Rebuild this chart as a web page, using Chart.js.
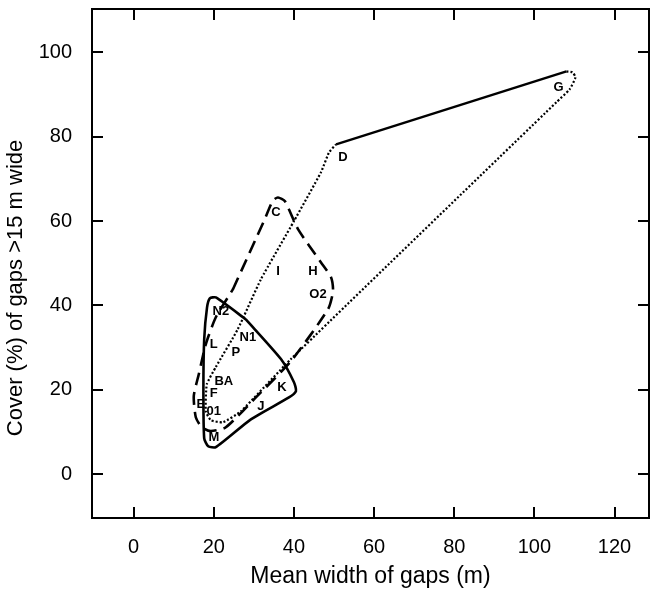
<!DOCTYPE html>
<html>
<head>
<meta charset="utf-8">
<script src="https://cdn.jsdelivr.net/npm/chart.js@4/dist/chart.umd.min.js"></script>
<style>
  html, body { margin: 0; padding: 0; background: #fff; }
  #wrap { width: 650px; height: 591px; }
</style>
</head>
<body>
<div id="wrap"><canvas id="gaps" width="650" height="591"></canvas></div>
<script>
// site labels and where they sit (mean gap width, cover of wide gaps)
const siteNames = ["G", "D", "C", "I", "H", "O2", "N2", "L", "N1", "P", "BA", "F", "E", "01", "J", "K", "M"];
const siteX = [106, 52.25, 35.5, 36, 44.75, 46, 21.75, 20, 28.5, 25.5, 22.5, 20, 16.75, 20, 31.75, 37, 20];
const siteY = [91.7, 75.1, 62.1, 48.1, 48.1, 42.7, 38.6, 30.8, 32.5, 28.9, 22, 19.2, 16.6, 14.9, 16.1, 20.6, 8.8];

// solid outline (N2 / K / M group)
const solidX = [28, 36.75, 40, 40.5, 38.75, 29.25, 20.5, 18.6, 17.6, 17.4, 17.6, 18.3, 19, 20.5, 28];
const solidY = [36.7, 27.3, 21.8, 19.7, 18.2, 13.0, 6.4, 6.6, 8.5, 20, 32, 39.5, 41.7, 41.9, 36.7];

// dashed outline (C group)
const dashedX = [24.75, 32.5, 34.75, 36, 37.75, 41, 46.75, 49.25, 49.75, 48.5, 39.25, 30.5, 23, 19.25, 17, 15.5, 15, 16.25, 18, 20.5, 24.75];
const dashedY = [43.8, 60, 64.9, 65.6, 64.7, 58.1, 50.2, 46.7, 43.4, 39.1, 26.8, 18.2, 11.1, 10.2, 11.1, 13.5, 18.5, 23.7, 30.8, 37.2, 43.8];

// dotted outline (D / G group), its top edge D-G is drawn solid
const dottedX = [108, 109.5, 110.25, 108.75, 105.5, 39.25, 26.75, 22.25, 19.25, 18, 18.25, 20.5, 26, 31.75, 40, 46.75, 48.75, 50.5];
const dottedY = [95.5, 95.3, 94.1, 91.2, 88.2, 27.3, 14.9, 12.3, 12.8, 14.9, 21.3, 25.4, 34.4, 46.2, 60, 71.6, 76.3, 78.2];
const topEdgeX = [50.5, 108];
const topEdgeY = [78.2, 95.5];

const xTicks = [0, 20, 40, 60, 80, 100, 120];
const yTicks = [0, 20, 40, 60, 80, 100];

const FONT = "'Liberation Sans', Arial, sans-serif";
// trailing no-break spaces nudge the y title down a little, like the original
const yTitle = "Cover (%) of gaps >15 m wide" + "\u00A0".repeat(8);

function pts(xs, ys) {
    let out = [];
    for (let i = 0; i < xs.length; i++) out.push({x: xs[i], y: ys[i]});
    return out;
}

// frame, inward ticks and the site letters
const framePlugin = {
    id: "frame",
    afterDatasetsDraw(chart) {
        const ctx = chart.ctx;
        const a = chart.chartArea;
        const sx = chart.scales.x, sy = chart.scales.y;
        ctx.save();
        ctx.strokeStyle = "#000";
        ctx.lineWidth = 2;
        ctx.strokeRect(a.left, a.top, a.right - a.left, a.bottom - a.top);
        ctx.beginPath();
        for (const v of xTicks) {
            const px = Math.round(sx.getPixelForValue(v));
            ctx.moveTo(px, a.bottom); ctx.lineTo(px, a.bottom - 11);
            ctx.moveTo(px, a.top); ctx.lineTo(px, a.top + 11);
        }
        for (const v of yTicks) {
            const py = Math.round(sy.getPixelForValue(v));
            ctx.moveTo(a.left, py); ctx.lineTo(a.left + 11, py);
            ctx.moveTo(a.right, py); ctx.lineTo(a.right - 11, py);
        }
        ctx.stroke();

        const meta = chart.getDatasetMeta(0);
        ctx.fillStyle = "#000";
        ctx.font = "bold 13px " + FONT;
        ctx.textAlign = "center";
        ctx.textBaseline = "middle";
        meta.data.forEach((el, i) => {
            ctx.fillText(siteNames[i], el.x, el.y);
        });
        ctx.restore();
    }
};

new Chart(document.getElementById("gaps").getContext("2d"), {
    type: "scatter",
    data: {
        datasets: [
            {label: "sites", data: pts(siteX, siteY), pointRadius: 0, showLine: false},
            {label: "solid", data: pts(solidX, solidY), showLine: true, pointRadius: 0,
             borderColor: "#000", borderWidth: 2.6, tension: 0.2, fill: false},
            {label: "dashed", data: pts(dashedX, dashedY), showLine: true, pointRadius: 0,
             borderColor: "#000", borderWidth: 2.6, borderDash: [13, 7], tension: 0.2, fill: false},
            {label: "dotted", data: pts(dottedX, dottedY), showLine: true, pointRadius: 0,
             borderColor: "#000", borderWidth: 2.2, borderDash: [2, 2], tension: 0.15, fill: false},
            {label: "topEdge", data: pts(topEdgeX, topEdgeY), showLine: true, pointRadius: 0,
             borderColor: "#000", borderWidth: 2.4, tension: 0, fill: false}
        ]
    },
    options: {
        responsive: false,
        animation: false,
        layout: {padding: {top: 9, right: 1, bottom: 0, left: 0}},
        plugins: {legend: {display: false}, tooltip: {enabled: false}},
        scales: {
            x: {
                type: "linear",
                min: -10.4,
                max: 128.6,
                afterBuildTicks: (s) => { s.ticks = xTicks.map(v => ({value: v})); },
                afterFit: (s) => { s.height = 73; s.paddingLeft = 0; s.paddingRight = 0; },
                grid: {display: false, drawTicks: false},
                border: {display: false},
                ticks: {color: "#000", padding: 17, font: {family: FONT, size: 20}},
                title: {display: true, text: "Mean width of gaps (m)", color: "#000",
                        padding: {top: 0, bottom: 1},
                        font: {family: FONT, size: 23}}
            },
            y: {
                type: "linear",
                min: -10.4,
                max: 110.3,
                afterBuildTicks: (s) => { s.ticks = yTicks.map(v => ({value: v})); },
                afterFit: (s) => { s.width = 92; s.paddingTop = 0; s.paddingBottom = 0; },
                grid: {display: false, drawTicks: false},
                border: {display: false},
                ticks: {color: "#000", padding: 20, font: {family: FONT, size: 20}},
                title: {display: true, text: yTitle, color: "#000",
                        padding: {top: 3, bottom: 0},
                        font: {family: FONT, size: 22}}
            }
        }
    },
    plugins: [framePlugin]
});
</script>
</body>
</html>
